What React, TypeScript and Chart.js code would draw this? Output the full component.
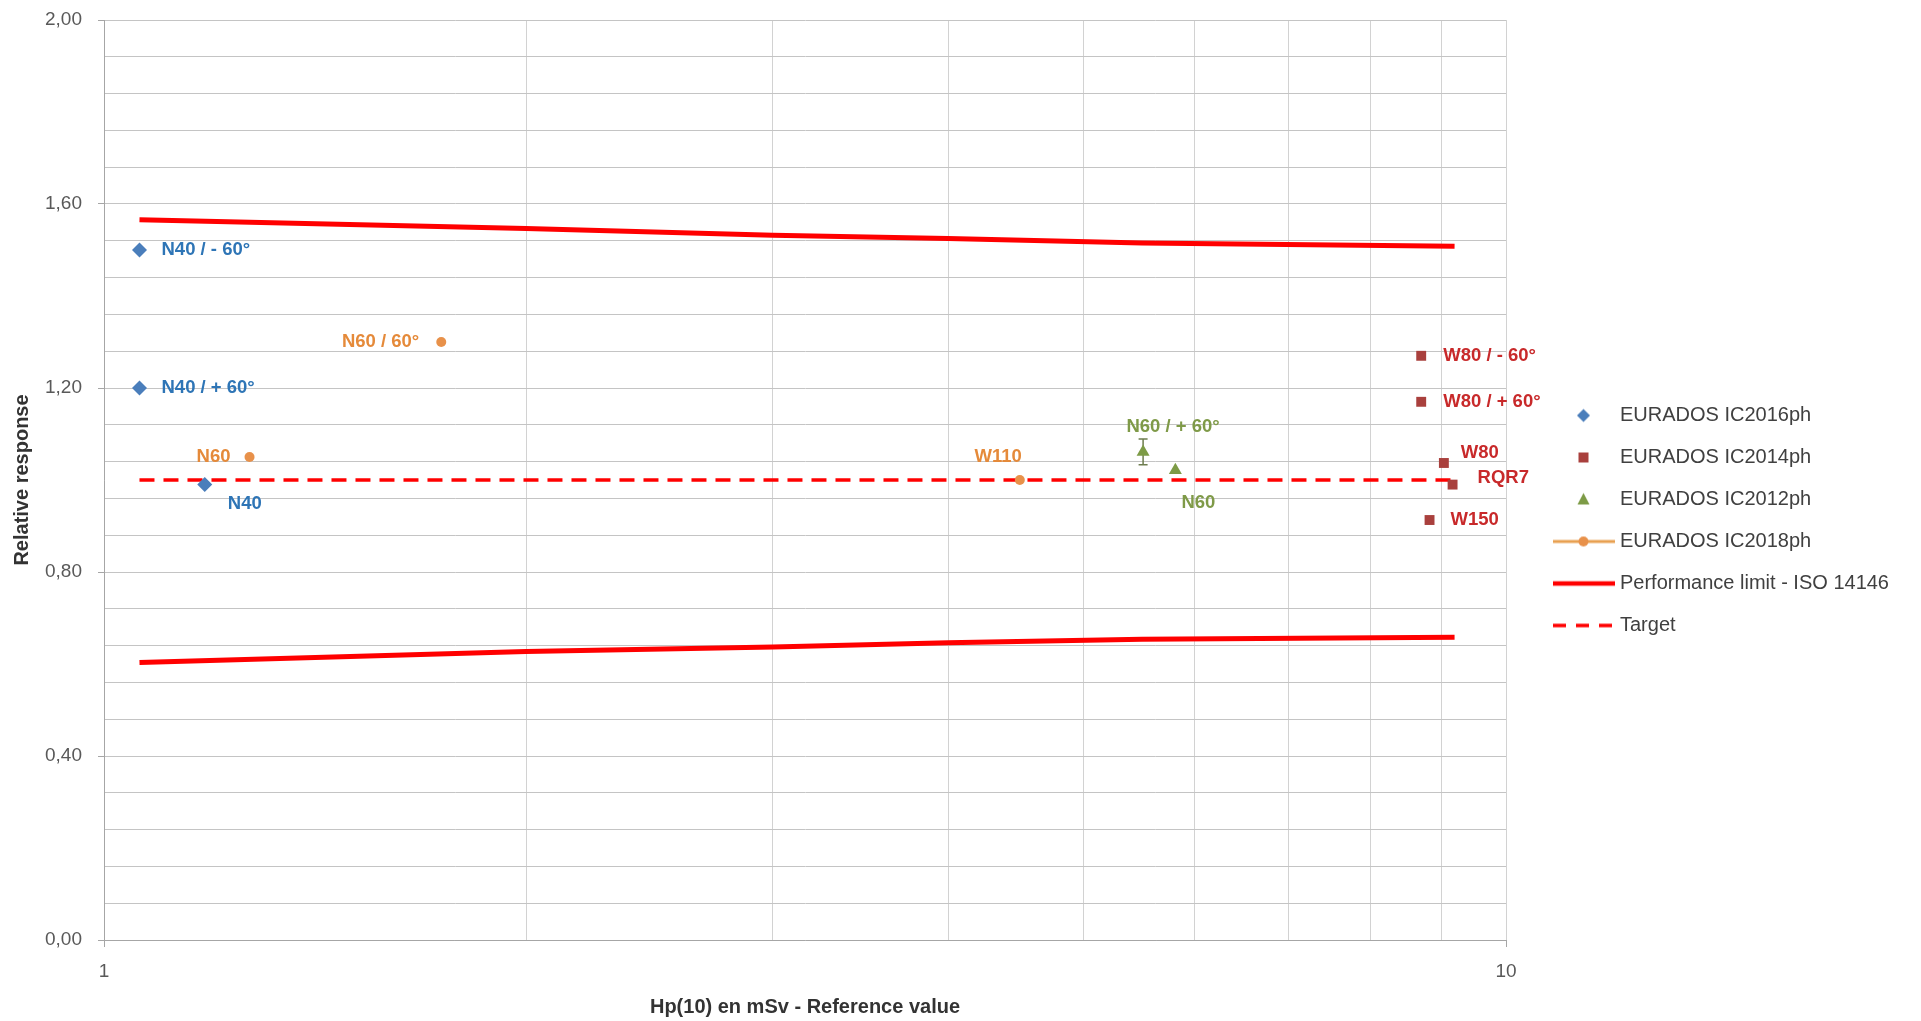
import React, { useEffect, useRef } from 'react';
import { Chart, registerables } from 'chart.js';

Chart.register(...registerables);

const FONT = '"Liberation Sans", Arial, sans-serif';

// ---- data ----
const ic2016Labels = ['N40 / - 60°', 'N40 / + 60°', 'N40'];
const ic2016X = [1.06, 1.06, 1.18];
const ic2016Y = [1.50, 1.20, 0.99];

const ic2014Labels = ['W80 / - 60°', 'W80 / + 60°', 'W80', 'RQR7', 'W150'];
const ic2014X = [8.70, 8.70, 9.03, 9.16, 8.82];
const ic2014Y = [1.27, 1.17, 1.037, 0.99, 0.913];

const ic2012Labels = ['N60 / + 60°', 'N60'];
const ic2012X = [5.51, 5.81];
const ic2012Y = [1.061, 1.021];
const ic2012Err = [0.028, 0];

const ic2018Labels = ['N60 / 60°', 'N60', 'W110'];
const ic2018X = [1.74, 1.27, 4.50];
const ic2018Y = [1.30, 1.05, 1.00];

const limitX = [1.06, 2.0, 3.0, 4.0, 5.5, 9.19];
const limitUpper = [1.566, 1.547, 1.532, 1.525, 1.515, 1.508];
const limitLower = [0.603, 0.627, 0.637, 0.646, 0.654, 0.658];

const targetX = [1.06, 9.19];
const targetY = [1.0, 1.0];

const yMajorTicks = [0, 0.4, 0.8, 1.2, 1.6, 2.0];
const xGridValues = [1, 2, 3, 4, 5, 6, 7, 8, 9, 10];
const xTickLabels = [1, 10];

const xTitle = 'Hp(10) en mSv - Reference value';
const yTitle = 'Relative response';

// label placement (kept apart from the data): [align, dx, dy]
const ic2016Place: [CanvasTextAlign, number, number][] = [['left', 22, 0], ['left', 22, 0], ['center', 40, 19]];
const ic2014Place: [CanvasTextAlign, number, number][] = [['left', 22, 0], ['left', 22, 0], ['left', 17, -10], ['left', 25, -7], ['left', 21, 0]];
const ic2012Place: [CanvasTextAlign, number, number][] = [['center', 30, -25], ['center', 23, 33]];
const ic2018Place: [CanvasTextAlign, number, number][] = [['right', -22, 0], ['right', -19, 0], ['right', 2, -23]];

// ---- styles ----
const BLUE = '#4A7EBB';
const BLUE_TXT = '#2E75B6';
const RED_M = '#A9403D';
const RED_TXT = '#C8292A';
const GREEN = '#7D9B46';
const GREEN_TXT = '#7F9A48';
const ORANGE = '#E8914A';
const ORANGE_TXT = '#E58A3A';
const LIMIT = '#FF0000';

const pts = (xs: number[], ys: number[]) => xs.map((x, i) => ({ x, y: ys[i] }));
const near = (v: number, arr: number[]) => arr.some((t) => Math.abs(v - t) < 1e-6);

function legendImage(kind: string): HTMLCanvasElement {
  const c = document.createElement('canvas');
  c.width = 100;
  c.height = 20;
  const g = c.getContext('2d')!;
  const cx = 64.5;
  const cy = 10;
  g.lineCap = 'butt';
  if (kind === 'diamond') {
    g.fillStyle = BLUE;
    g.beginPath();
    g.moveTo(cx - 6.5, cy); g.lineTo(cx, cy - 6.5); g.lineTo(cx + 6.5, cy); g.lineTo(cx, cy + 6.5);
    g.closePath(); g.fill();
  } else if (kind === 'square') {
    g.fillStyle = RED_M;
    g.fillRect(cx - 5, cy - 5, 10, 10);
  } else if (kind === 'triangle') {
    g.fillStyle = GREEN;
    g.beginPath();
    g.moveTo(cx, cy - 6.5); g.lineTo(cx + 6, cy + 5); g.lineTo(cx - 6, cy + 5);
    g.closePath(); g.fill();
  } else if (kind === 'lineDot') {
    g.strokeStyle = '#E8A050';
    g.lineWidth = 3;
    g.beginPath(); g.moveTo(34, cy); g.lineTo(96, cy); g.stroke();
    g.fillStyle = ORANGE;
    g.beginPath(); g.arc(cx, cy, 5, 0, Math.PI * 2); g.fill();
  } else if (kind === 'line') {
    g.strokeStyle = LIMIT;
    g.lineWidth = 4.5;
    g.beginPath(); g.moveTo(34, cy); g.lineTo(96, cy); g.stroke();
  } else if (kind === 'dash') {
    g.strokeStyle = LIMIT;
    g.lineWidth = 3.5;
    g.setLineDash([13, 10]);
    g.beginPath(); g.moveTo(34, cy); g.lineTo(96, cy); g.stroke();
  }
  return c;
}

const annotatePlugin = {
  id: 'annotate',
  beforeDatasetsDraw(chart: any) {
    const { ctx } = chart;
    const xs = chart.scales.x;
    const ys = chart.scales.y;
    chart.data.datasets.forEach((ds: any) => {
      if (!ds.errBars) return;
      ds.data.forEach((p: any, i: number) => {
        const e = ds.errBars[i];
        if (!e) return;
        const px = xs.getPixelForValue(p.x);
        const y1 = ys.getPixelForValue(p.y + e);
        const y2 = ys.getPixelForValue(p.y - e);
        ctx.save();
        ctx.strokeStyle = '#6E7D4F';
        ctx.lineWidth = 1.5;
        ctx.beginPath();
        ctx.moveTo(px, y1); ctx.lineTo(px, y2);
        ctx.moveTo(px - 4.5, y1); ctx.lineTo(px + 4.5, y1);
        ctx.moveTo(px - 4.5, y2); ctx.lineTo(px + 4.5, y2);
        ctx.stroke();
        ctx.restore();
      });
    });
  },
  afterDatasetsDraw(chart: any) {
    const { ctx } = chart;
    chart.data.datasets.forEach((ds: any, di: number) => {
      if (!ds.pointLabels) return;
      const meta = chart.getDatasetMeta(di);
      meta.data.forEach((el: any, i: number) => {
        const { x, y } = el.getProps(['x', 'y'], true);
        const [align, dx, dy] = ds.labelPlace[i];
        ctx.save();
        ctx.font = `bold 18.5px ${FONT}`;
        ctx.fillStyle = ds.labelColor;
        ctx.textAlign = align;
        ctx.textBaseline = 'middle';
        ctx.fillText(ds.pointLabels[i], x + dx, y + dy);
        ctx.restore();
      });
    });
  },
};

export default function App() {
  const ref = useRef<HTMLCanvasElement | null>(null);

  useEffect(() => {
    if (!ref.current) return;
    Chart.defaults.font.family = FONT;

    const images: Record<string, HTMLCanvasElement> = {
      'EURADOS IC2016ph': legendImage('diamond'),
      'EURADOS IC2014ph': legendImage('square'),
      'EURADOS IC2012ph': legendImage('triangle'),
      'EURADOS IC2018ph': legendImage('lineDot'),
      'Performance limit - ISO 14146': legendImage('line'),
      'Target': legendImage('dash'),
    };

    const datasets: any[] = [
      {
        label: 'EURADOS IC2016ph', data: pts(ic2016X, ic2016Y), showLine: false,
        pointStyle: 'rectRot', pointRadius: 7.5, backgroundColor: BLUE, borderColor: BLUE, borderWidth: 0,
        pointLabels: ic2016Labels, labelPlace: ic2016Place, labelColor: BLUE_TXT,
      },
      {
        label: 'EURADOS IC2014ph', data: pts(ic2014X, ic2014Y), showLine: false,
        pointStyle: 'rect', pointRadius: 7, backgroundColor: RED_M, borderColor: RED_M, borderWidth: 0,
        pointLabels: ic2014Labels, labelPlace: ic2014Place, labelColor: RED_TXT,
      },
      {
        label: 'EURADOS IC2012ph', data: pts(ic2012X, ic2012Y), showLine: false,
        pointStyle: 'triangle', pointRadius: 7.5, backgroundColor: GREEN, borderColor: GREEN, borderWidth: 0,
        pointLabels: ic2012Labels, labelPlace: ic2012Place, labelColor: GREEN_TXT, errBars: ic2012Err,
      },
      {
        label: 'EURADOS IC2018ph', data: pts(ic2018X, ic2018Y), showLine: false,
        pointStyle: 'circle', pointRadius: 5, backgroundColor: ORANGE, borderColor: ORANGE, borderWidth: 0,
        pointLabels: ic2018Labels, labelPlace: ic2018Place, labelColor: ORANGE_TXT,
      },
      {
        label: 'Performance limit - ISO 14146', data: pts(limitX, limitUpper), showLine: true,
        borderColor: LIMIT, backgroundColor: LIMIT, borderWidth: 5, pointRadius: 0, fill: false,
      },
      {
        label: 'Performance limit (lower)', data: pts(limitX, limitLower), showLine: true, hideInLegend: true,
        borderColor: LIMIT, backgroundColor: LIMIT, borderWidth: 5, pointRadius: 0, fill: false,
      },
      {
        label: 'Target', data: pts(targetX, targetY), showLine: true,
        borderColor: LIMIT, backgroundColor: LIMIT, borderWidth: 3.5, borderDash: [15, 9], pointRadius: 0, fill: false,
      },
    ];

    const chart = new Chart(ref.current, {
      type: 'scatter',
      data: { datasets },
      plugins: [annotatePlugin],
      options: {
        responsive: false,
        animation: false,
        events: [],
        layout: { padding: { left: 0, right: 25, top: 20, bottom: 0 } },
        scales: {
          x: {
            type: 'logarithmic',
            position: 'bottom',
            min: 1,
            max: 10,
            afterBuildTicks: (s: any) => {
              s.ticks = xGridValues.map((v) => ({ value: v, major: near(v, xTickLabels) }));
            },
            afterFit: (s: any) => { s.height = 81; },
            grid: {
              color: '#D2D2D2',
              lineWidth: 1,
              tickLength: 7,
              tickColor: (c: any) => (c.tick && near(c.tick.value, xTickLabels) ? '#A6A6A6' : 'rgba(0,0,0,0)'),
            },
            border: { color: '#A6A6A6', width: 1 },
            ticks: {
              autoSkip: false,
              maxRotation: 0,
              padding: 13,
              color: '#595959',
              font: { size: 19, family: FONT },
              callback: (v: any) => (near(Number(v), xTickLabels) ? String(Math.round(Number(v))) : ''),
            },
            title: {
              display: true,
              text: xTitle,
              color: '#333333',
              font: { size: 20, weight: 'bold', family: FONT },
              padding: { top: 0, bottom: 2 },
            },
          },
          y: {
            type: 'linear',
            min: 0,
            max: 2,
            afterFit: (s: any) => { s.width = 104; s.paddingTop = 10; s.paddingBottom = 10; },
            grid: {
              color: '#C4C4C4',
              lineWidth: 1,
              tickLength: 6,
              tickColor: (c: any) => (c.tick && near(c.tick.value, yMajorTicks) ? '#A6A6A6' : 'rgba(0,0,0,0)'),
            },
            border: { color: '#A6A6A6', width: 1 },
            ticks: {
              stepSize: 0.08,
              autoSkip: false,
              padding: 16,
              color: '#595959',
              font: { size: 19, family: FONT },
              callback: (v: any) => (near(Number(v), yMajorTicks) ? Number(v).toFixed(2).replace('.', ',') : ''),
            },
            title: {
              display: true,
              text: yTitle,
              color: '#333333',
              font: { size: 20, weight: 'bold', family: FONT },
              padding: { top: 10, bottom: 0 },
            },
          },
        },
        plugins: {
          tooltip: { enabled: false },
          legend: {
            display: true,
            position: 'right',
            align: 'center',
            maxWidth: 390,
            labels: {
              usePointStyle: true,
              pointStyleWidth: 82,
              padding: 22,
              color: '#404040',
              font: { size: 20, family: FONT },
              filter: (item: any, data: any) => !data.datasets[item.datasetIndex].hideInLegend,
              generateLabels: (ch: any) => {
                const base = (Chart.defaults.plugins.legend.labels as any).generateLabels(ch);
                return base.map((it: any) => ({
                  ...it,
                  pointStyle: images[it.text] || it.pointStyle,
                  fontColor: '#404040',
                  lineWidth: 0,
                }));
              },
            },
          },
        },
      } as any,
    });

    return () => chart.destroy();
  }, []);

  return (
    <div style={{ position: 'fixed', left: 0, top: 0, width: 1921, height: 1021, background: '#ffffff' }}>
      <canvas ref={ref} width={1921} height={1021} style={{ display: 'block' }} />
    </div>
  );
}
